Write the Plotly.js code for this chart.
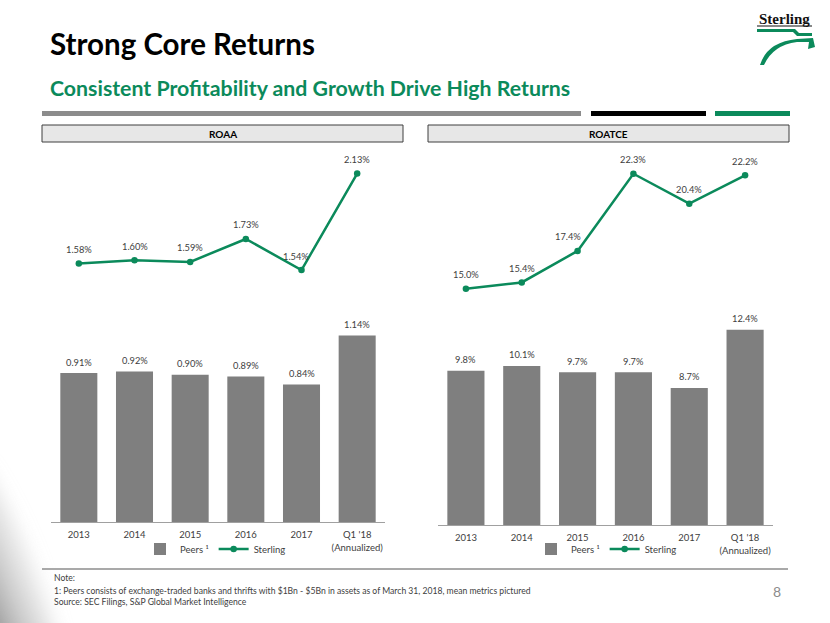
<!DOCTYPE html>
<html>
<head>
<meta charset="utf-8">
<script src="https://cdn.plot.ly/plotly-3.0.1.min.js"></script>
<style>html,body{margin:0;padding:0;background:#fff;}#chart{width:830px;height:623px;}</style>
</head>
<body>
<div id="chart"></div>
<script>
// ---- data ----
const categories = ["2013", "2014", "2015", "2016", "2017", "Q1 '18<br>(Annualized)"];
const roaaPeers = [0.91, 0.92, 0.90, 0.89, 0.84, 1.14];
const roaaSterling = [1.58, 1.60, 1.59, 1.73, 1.54, 2.13];
const roatcePeers = [9.8, 10.1, 9.7, 9.7, 8.7, 12.4];
const roatceSterling = [15.0, 15.4, 17.4, 22.3, 20.4, 22.2];
const seriesNames = ["Peers \u00B9", "Sterling"];
const panelTitles = ["ROAA", "ROATCE"];

// ---- style ----
const W = 830, H = 623;
const FONT = 'Lato, "Open Sans", sans-serif';
const GREEN = '#0B8A5B';
const BARGRAY = '#7F7F7F';
const LABEL = '#404040';
const px = x => x / W;
const py = y => 1 - y / H;
const roaaLabelXShift = [0, 0, 0, 0, -6, 0];
const roatceLabelXShift = [0, 0, -10, 0, 0, 0];

const traces = [
  {type: 'bar', x: categories, y: roaaPeers, name: seriesNames[0], marker: {color: BARGRAY},
   xaxis: 'x', yaxis: 'y', legend: 'legend', hoverinfo: 'skip'},
  {type: 'scatter', mode: 'lines+markers', x: categories, y: roaaSterling, name: seriesNames[1],
   line: {color: GREEN, width: 2.5}, marker: {color: GREEN, size: 6.5}, xaxis: 'x', yaxis: 'y',
   legend: 'legend', cliponaxis: false, hoverinfo: 'skip'},
  {type: 'bar', x: categories, y: roatcePeers, name: seriesNames[0], marker: {color: BARGRAY},
   xaxis: 'x2', yaxis: 'y2', legend: 'legend2', hoverinfo: 'skip'},
  {type: 'scatter', mode: 'lines+markers', x: categories, y: roatceSterling, name: seriesNames[1],
   line: {color: GREEN, width: 2.5}, marker: {color: GREEN, size: 6.5}, xaxis: 'x2', yaxis: 'y2',
   legend: 'legend2', cliponaxis: false, hoverinfo: 'skip'}
];

const lblFont = {family: FONT, size: 9.3, color: LABEL};
const annotations = [];
function addLabels(vals, digits, xr, yr, yshift, xshifts) {
  vals.forEach((v, i) => {
    // x given as category index on the category axis
    annotations.push({xref: xr, yref: yr, x: i, y: v, text: v.toFixed(digits) + '%',
      showarrow: false, yshift: yshift, xshift: xshifts ? xshifts[i] : 0, font: lblFont});
  });
}
addLabels(roaaPeers, 2, 'x', 'y', 11, null);
addLabels(roaaSterling, 2, 'x', 'y', 14, roaaLabelXShift);
addLabels(roatcePeers, 1, 'x2', 'y2', 11, null);
addLabels(roatceSterling, 1, 'x2', 'y2', 14, roatceLabelXShift);

function pageText(text, x, y, size, color, bold, anchor) {
  annotations.push({xref: 'paper', yref: 'paper', x: px(x), y: py(y), xanchor: anchor || 'left',
    yanchor: 'middle', showarrow: false, text: bold ? '<b>' + text + '</b>' : text,
    font: {family: FONT, size: size, color: color}});
}
pageText('Strong Core Returns', 48, 43, 29.5, '#000000', true);
pageText('Consistent Profitability and Growth Drive High Returns', 48, 88, 21.3, GREEN, true);
pageText(panelTitles[0], 222.5, 133.5, 10, '#000000', true, 'center');
pageText(panelTitles[1], 608.5, 133.5, 10, '#000000', true, 'center');
pageText('Note:', 52, 578, 8.6, '#404040');
pageText('1: Peers consists of exchange-traded banks and thrifts with $1Bn - $5Bn in assets as of March 31, 2018, mean metrics pictured', 52, 591, 8.6, '#404040');
pageText('Source: SEC Filings, S&amp;P Global Market Intelligence', 52, 602, 8.6, '#404040');
pageText('8', 777, 591, 14, '#8C8C8C', false, 'center');
annotations.push({xref: 'paper', yref: 'paper', x: px(784), y: py(19), xanchor: 'center', yanchor: 'middle',
  showarrow: false, text: '<b>Sterling</b>', font: {family: '"Liberation Serif", serif', size: 15, color: '#111'}});

function rect(x0, y0, x1, y1, fill, line) {
  return {type: 'rect', xref: 'paper', yref: 'paper', x0: px(x0), x1: px(x1), y0: py(y0), y1: py(y1),
    fillcolor: fill, line: line || {width: 0}, layer: 'below'};
}
const shapes = [
  rect(42, 111, 581, 116, '#8C8C8C'),
  rect(591, 111, 706, 116, '#000000'),
  rect(715, 111, 790, 116, GREEN),
  rect(42, 125, 403, 142, '#E7E7E7', {color: '#3F3F3F', width: 1}),
  rect(428, 125, 789, 142, '#E7E7E7', {color: '#3F3F3F', width: 1}),
  {type: 'line', xref: 'paper', yref: 'paper', x0: px(42), x1: px(788), y0: py(569), y1: py(569),
   line: {color: '#8C8C8C', width: 1.5}},
  {type: 'line', xref: 'paper', yref: 'paper', x0: px(757), x1: px(812), y0: py(26), y1: py(26),
   line: {color: '#111', width: 1}}
];

const swoosh = 'data:image/svg+xml;utf8,' + encodeURIComponent(
  '<svg xmlns="http://www.w3.org/2000/svg" width="70" height="50" viewBox="0 0 70 50">' +
  '<path d="M12,1 L50,1 L54,5 L67,5 L67,8 L52,8 L48,4 L12,4 Z" fill="' + GREEN + '"/>' +
  '<path d="M15,37 Q22,14 52,11 L68,10 L70,19 L63,21 L64,14 L52,14 Q28,17 19,37 Z" fill="' + GREEN + '"/>' +
  '</svg>');
const corner = 'data:image/svg+xml;utf8,' + encodeURIComponent(
  '<svg xmlns="http://www.w3.org/2000/svg" width="100" height="180" viewBox="0 0 100 180">' +
  '<defs><filter id="b" x="-50%" y="-50%" width="200%" height="200%"><feGaussianBlur stdDeviation="9"/></filter>' +
  '<linearGradient id="g" x1="0" y1="1" x2="0.8" y2="0.2">' +
  '<stop offset="0" stop-color="#666666" stop-opacity="1"/>' +
  '<stop offset="0.3" stop-color="#9a9a9a" stop-opacity="0.75"/>' +
  '<stop offset="0.7" stop-color="#d6d6d6" stop-opacity="0.35"/>' +
  '<stop offset="1" stop-color="#ffffff" stop-opacity="0"/></linearGradient></defs>' +
  '<path d="M-20,10 Q30,80 60,200 L-20,200 Z" fill="url(#g)" filter="url(#b)"/></svg>');

const xCommon = {type: 'category', showline: true, linecolor: '#A0A0A0', linewidth: 1, ticks: '',
  showgrid: false, zeroline: false, tickfont: {family: FONT, size: 9.5, color: LABEL},
  ticklabelstandoff: 4, fixedrange: true, range: [-0.5, 5.5], autorange: false};
const layout = {
  width: W, height: H, margin: {l: 0, r: 0, t: 0, b: 0}, paper_bgcolor: '#ffffff',
  plot_bgcolor: 'rgba(0,0,0,0)', bargap: 0.335, showlegend: true, font: {family: FONT},
  xaxis: Object.assign({}, xCommon, {domain: [px(51), px(385)], anchor: 'y'}),
  yaxis: {domain: [py(522), py(522 - 2.3 * 163.6)], range: [0, 2.3], autorange: false, visible: false, fixedrange: true, anchor: 'x'},
  xaxis2: Object.assign({}, xCommon, {domain: [px(438), px(773)], anchor: 'y2'}),
  yaxis2: {domain: [py(525), py(525 - 24 * 15.75)], range: [0, 24], autorange: false, visible: false, fixedrange: true, anchor: 'x2'},
  legend: {orientation: 'h', x: px(140), y: py(549), xanchor: 'left', yanchor: 'middle',
    font: {family: FONT, size: 9.5, color: LABEL}, bgcolor: 'rgba(0,0,0,0)', traceorder: 'normal'},
  legend2: {orientation: 'h', x: px(531), y: py(549), xanchor: 'left', yanchor: 'middle',
    font: {family: FONT, size: 9.5, color: LABEL}, bgcolor: 'rgba(0,0,0,0)', traceorder: 'normal'},
  annotations: annotations,
  shapes: shapes,
  images: [
    {source: swoosh, xref: 'paper', yref: 'paper', x: px(745), y: py(28), sizex: px(70), sizey: 50 / H,
     xanchor: 'left', yanchor: 'top', sizing: 'stretch', layer: 'above'},
    {source: corner, xref: 'paper', yref: 'paper', x: 0, y: py(450), sizex: px(100), sizey: 180 / H,
     xanchor: 'left', yanchor: 'top', sizing: 'stretch', layer: 'below'}
  ]
};
Plotly.newPlot('chart', traces, layout, {staticPlot: true, displayModeBar: false});
</script>
</body>
</html>
